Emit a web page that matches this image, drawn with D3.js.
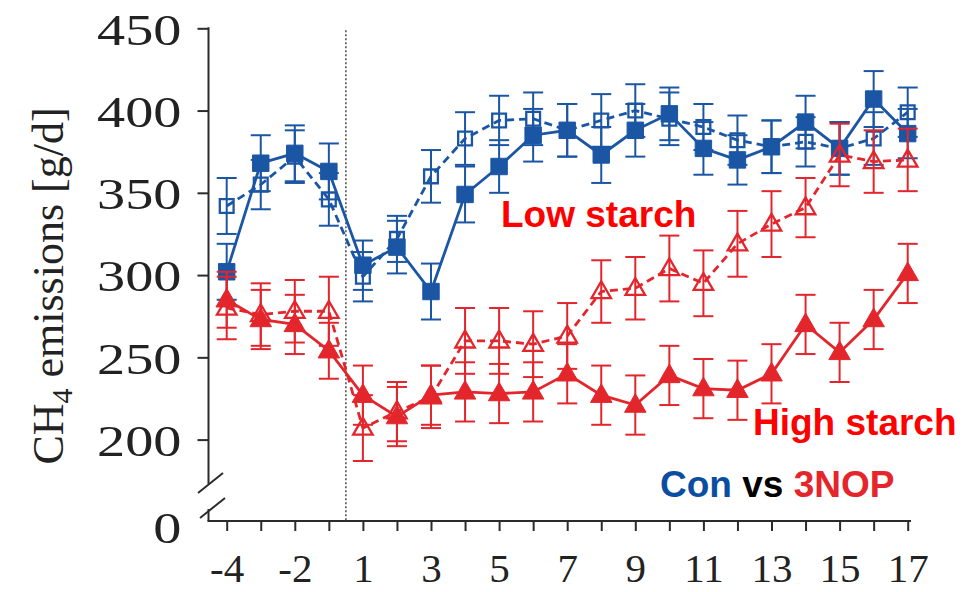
<!DOCTYPE html>
<html>
<head>
<meta charset="utf-8">
<script src="https://cdn.jsdelivr.net/npm/d3@7/dist/d3.min.js"></script>
<style>
  html, body { margin: 0; padding: 0; background: #fff; }
  svg { display: block; }
</style>
</head>
<body>
<svg id="chart" width="978" height="592"></svg>
<script>
// Days relative to the start of supplementation (no day 0)
const days = [-4, -3, -2, -1, 1, 2, 3, 4, 5, 6, 7, 8, 9, 10, 11, 12, 13, 14, 15, 16, 17];
const xTickLabels = ["-4", "-2", "1", "3", "5", "7", "9", "11", "13", "15", "17"];
const yTicks = [200, 250, 300, 350, 400, 450];

// CH4 emissions (g/d), mean and SE per day
const conHigh   = [302, 368, 374, 363, 306, 317, 290, 349, 366, 385, 388, 373, 388, 398, 377, 370, 378, 393, 377, 407, 386];
const conHighSE = [17, 17, 17, 17, 15, 16, 17, 17, 16, 16, 16, 17, 16, 16, 16, 15, 16, 16, 16, 17, 15];
const conLow    = [342, 355, 372, 346, 299, 322, 360, 383, 394, 395, 388, 394, 400, 395, 390, 382, 378, 381, 377, 383, 399];
const conLowSE  = [17, 15, 16, 16, 15, 14, 16, 16, 15, 16, 16, 16, 16, 16, 14, 15, 16, 15, 16, 16, 15];
const nopHigh   = [285, 273, 270, 254, 227, 214, 227, 229, 228, 229, 240, 227, 221, 239, 231, 230, 240, 270, 253, 273, 301];
const nopHighSE = [17, 18, 18, 17, 18, 18, 18, 18, 18, 18, 18, 18, 18, 18, 18, 18, 18, 18, 18, 18, 18];
const nopLow    = [280, 276, 278, 278, 207, 217, 226, 260, 260, 258, 263, 290, 292, 304, 295, 319, 331, 341, 373, 369, 370];
const nopLowSE  = [19, 19, 19, 21, 20, 18, 19, 20, 20, 20, 20, 19, 19, 20, 20, 20, 20, 18, 19, 19, 19];

const BLUE = "#1b56a5";
const RED = "#e3252c";

const svg = d3.select("#chart");

const x = d3.scalePoint().domain(days).range([226.7, 907.7]);
const y = d3.scaleLinear().domain([200, 450]).range([439.6, 28.3]);

const axisX = 208.5;
const axisBottom = 521;
const axisColor = "#2b2b2b";
const serif = "'Liberation Serif', 'Times New Roman', serif";

// ---- Y axis (broken between 200 and 0) ----
const yAxisG = svg.append("g")
  .attr("transform", `translate(${axisX},0)`)
  .call(d3.axisLeft(y).tickValues(yTicks).tickSize(11).tickSizeOuter(0).tickFormat(d3.format("d")));
yAxisG.select(".domain").remove();
yAxisG.selectAll(".tick line").attr("stroke", axisColor).attr("stroke-width", 2);
yAxisG.selectAll(".tick text")
  .attr("x", 0)
  .attr("dy", "0.36em")
  .attr("transform", "translate(-27,0) scale(1.28,1)")
  .attr("fill", "#222")
  .style("font-family", serif)
  .style("font-size", "44px");

// upper and lower parts of the vertical axis line
svg.append("line")
  .attr("x1", axisX).attr("x2", axisX)
  .attr("y1", y(450) - 1).attr("y2", 484)
  .attr("stroke", axisColor).attr("stroke-width", 2);
svg.append("line")
  .attr("x1", axisX).attr("x2", axisX)
  .attr("y1", 509).attr("y2", axisBottom)
  .attr("stroke", axisColor).attr("stroke-width", 2);

// break marks
[[198, 493, 223, 473], [200, 518, 225, 498]].forEach(([x1, y1, x2, y2]) => {
  svg.append("line")
    .attr("x1", x1).attr("y1", y1).attr("x2", x2).attr("y2", y2)
    .attr("stroke", axisColor).attr("stroke-width", 2);
});

// zero label below the break
svg.append("text")
  .attr("transform", `translate(${axisX - 27},527) scale(1.28,1)`)
  .attr("dy", "0.36em")
  .attr("text-anchor", "end")
  .attr("fill", "#222")
  .style("font-family", serif)
  .style("font-size", "44px")
  .text("0");

// ---- X axis ----
const xAxisG = svg.append("g")
  .attr("transform", `translate(0,${axisBottom})`)
  .call(d3.axisBottom(x).tickSize(10).tickSizeOuter(0)
    .tickFormat(d => xTickLabels.includes(String(d)) ? String(d) : ""));
xAxisG.select(".domain").remove();
xAxisG.selectAll(".tick line").attr("stroke", axisColor).attr("stroke-width", 2);
xAxisG.selectAll(".tick text")
  .attr("y", 61)
  .attr("dy", 0)
  .attr("fill", "#222")
  .style("font-family", serif)
  .style("font-size", "41px");
svg.append("line")
  .attr("x1", axisX - 1).attr("x2", 911)
  .attr("y1", axisBottom).attr("y2", axisBottom)
  .attr("stroke", axisColor).attr("stroke-width", 2);

// ---- dotted line marking the start of treatment ----
const startX = (x(-1) + x(1)) / 2;
svg.append("line")
  .attr("x1", startX).attr("x2", startX)
  .attr("y1", y(450) + 2).attr("y2", axisBottom)
  .attr("stroke", "#555").attr("stroke-width", 1.6)
  .attr("stroke-dasharray", "2,2");

// ---- Y axis title ----
const yTitle = svg.append("text")
  .attr("transform", "translate(63,286) rotate(-90)")
  .attr("text-anchor", "middle")
  .attr("fill", "#222")
  .style("font-family", serif)
  .style("font-size", "44px");
yTitle.append("tspan").text("CH");
yTitle.append("tspan").attr("dy", 9).style("font-size", "30px").text("4");
yTitle.append("tspan").attr("dy", -9).text(" emissions [g/d]");

// ---- series ----
const series = [
  { values: conLow,  se: conLowSE,  color: BLUE, dashed: true,  shape: d3.symbolSquare,   filled: false },
  { values: conHigh, se: conHighSE, color: BLUE, dashed: false, shape: d3.symbolSquare,   filled: true },
  { values: nopLow,  se: nopLowSE,  color: RED,  dashed: true,  shape: d3.symbolTriangle, filled: false },
  { values: nopHigh, se: nopHighSE, color: RED,  dashed: false, shape: d3.symbolTriangle, filled: true }
];

const line = d3.line()
  .x((d, i) => x(days[i]))
  .y(d => y(d));

series.forEach(s => {
  const g = svg.append("g");
  const pts = days.map((d, i) => ({ day: d, v: s.values[i], e: s.se[i] }));

  // error bars
  const eb = g.selectAll(".eb").data(pts).enter().append("g")
    .attr("stroke", s.color).attr("stroke-width", 2).attr("fill", "none");
  eb.append("line")
    .attr("x1", d => x(d.day)).attr("x2", d => x(d.day))
    .attr("y1", d => y(d.v + d.e)).attr("y2", d => y(d.v - d.e));
  eb.append("line")
    .attr("x1", d => x(d.day) - 10).attr("x2", d => x(d.day) + 10)
    .attr("y1", d => y(d.v + d.e)).attr("y2", d => y(d.v + d.e));
  eb.append("line")
    .attr("x1", d => x(d.day) - 10).attr("x2", d => x(d.day) + 10)
    .attr("y1", d => y(d.v - d.e)).attr("y2", d => y(d.v - d.e));

  // connecting line
  g.append("path")
    .datum(s.values)
    .attr("d", line)
    .attr("fill", "none")
    .attr("stroke", s.color)
    .attr("stroke-width", 2.8)
    .attr("stroke-dasharray", s.dashed ? "8,5" : null);

  // markers
  const isSquare = s.shape === d3.symbolSquare;
  const size = s.filled ? (isSquare ? 270 : 200) : (isSquare ? 190 : 165);
  g.selectAll(".mk").data(pts).enter().append("path")
    .attr("transform", d => `translate(${x(d.day)},${y(d.v) + (isSquare ? 0 : 1)})`)
    .attr("d", d3.symbol().type(s.shape).size(size))
    .attr("fill", s.filled ? s.color : "none")
    .attr("stroke", s.color)
    .attr("stroke-width", s.filled ? 1 : 2.3);
});

// ---- annotations ----
const sans = "'Liberation Sans', Arial, Helvetica, sans-serif";
svg.append("text")
  .attr("x", 501).attr("y", 227)
  .attr("fill", "#ff0000")
  .style("font-family", sans).style("font-weight", "bold").style("font-size", "37px")
  .text("Low starch");
svg.append("text")
  .attr("x", 753).attr("y", 435)
  .attr("fill", "#ff0000")
  .style("font-family", sans).style("font-weight", "bold").style("font-size", "37px")
  .text("High starch");

const legend = svg.append("text")
  .attr("x", 660).attr("y", 497)
  .style("font-family", sans).style("font-weight", "bold").style("font-size", "37px");
legend.append("tspan").attr("fill", "#0a4ea2").text("Con");
legend.append("tspan").attr("fill", "#000").text(" vs ");
legend.append("tspan").attr("fill", "#e5252b").text("3NOP");
</script>
</body>
</html>
